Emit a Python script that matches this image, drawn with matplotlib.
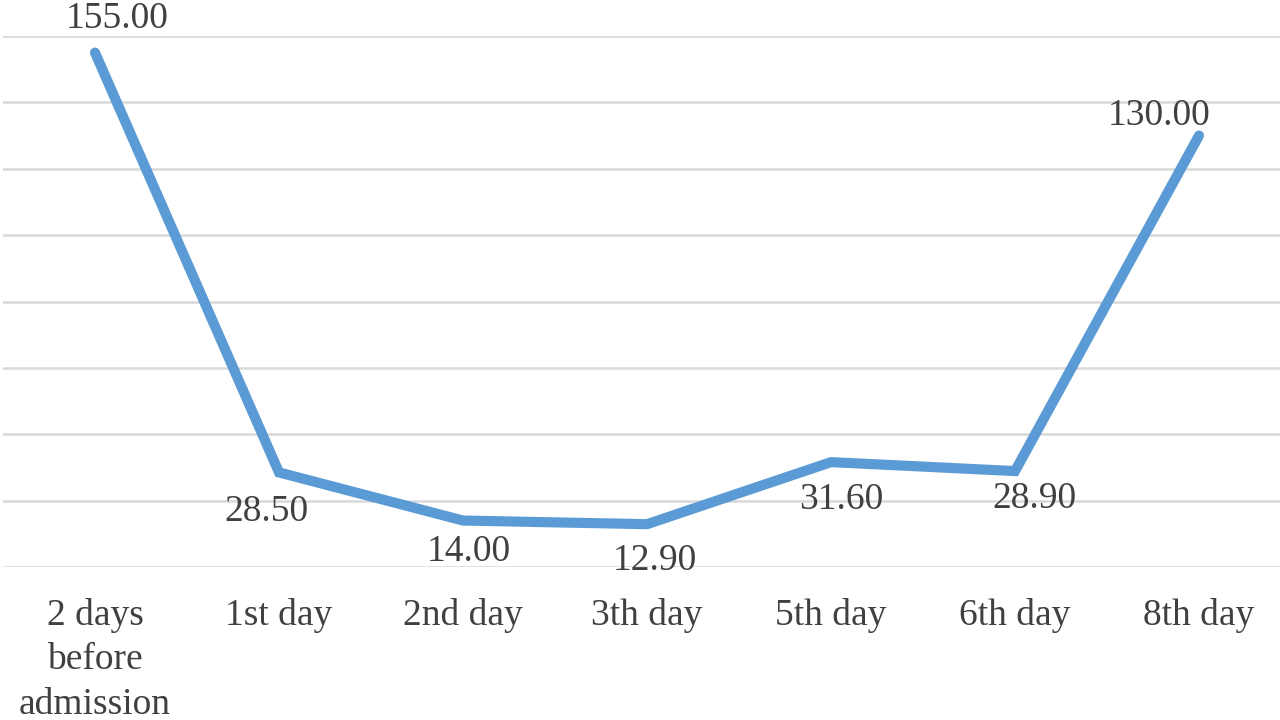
import matplotlib
matplotlib.use('Agg')
import matplotlib.pyplot as plt
import numpy as np

# data
categories = ['2 days\nbefore\nadmission', '1st day', '2nd day', '3th day',
              '5th day', '6th day', '8th day']
values = [155.00, 28.50, 14.00, 12.90, 31.60, 28.90, 130.00]

# label placement (pixel offsets from each point)
label_offsets = [(22, 34), (-13, -39), (6, -31), (8, -37), (10, -38), (19, -28), (-40, 20)]

plt.rcParams['font.family'] = ['Liberation Serif', 'DejaVu Serif']

fig = plt.figure(figsize=(12.8, 7.2), dpi=100)
ax = fig.add_axes([3 / 1280, 1 - 567 / 720, 1288 / 1280, 531 / 720])

x = np.arange(len(categories))
ax.plot(x, values, color='#5b9bd5', linewidth=7.3, solid_capstyle='round',
        solid_joinstyle='miter', zorder=3)

for xi, v, (dx, dy) in zip(x, values, label_offsets):
    ax.annotate('%.2f' % v, (xi, v), xytext=(dx, dy), textcoords='offset pixels',
                ha='center', va='center', fontsize=27, color='#404040', zorder=4)

ax.set_xlim(-0.5, 6.5)
ax.set_ylim(0, 160)
ax.set_yticks(np.arange(0, 161, 20))
ax.yaxis.grid(True, color='#d9d9d9', linewidth=1.8)
ax.set_axisbelow(True)
ax.tick_params(axis='y', left=False, labelleft=False)
ax.set_xticks(x)
ax.set_xticklabels(categories, fontsize=27, color='#404040', linespacing=1.38)
ax.tick_params(axis='x', length=0, pad=22)
for s in ax.spines.values():
    s.set_visible(False)

fig.savefig('out.png', dpi=100)
